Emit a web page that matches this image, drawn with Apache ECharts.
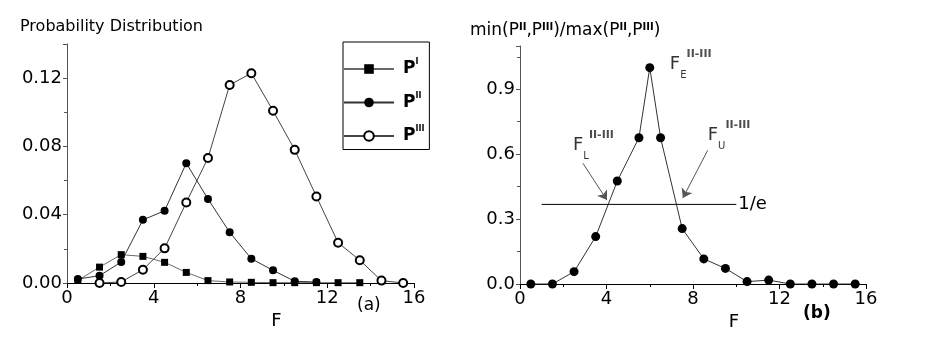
<!DOCTYPE html>
<html>
<head>
<meta charset="utf-8">
<script src="https://cdn.jsdelivr.net/npm/echarts@6/dist/echarts.min.js"></script>
<style>
html, body { margin: 0; padding: 0; background: #fff; }
#main { width: 927px; height: 354px; }
</style>
</head>
<body>
<div id="main"></div>
<script>
// (a) probability distributions, bins centred on half-integers
const binsI = [0.5, 1.5, 2.5, 3.5, 4.5, 5.5, 6.5, 7.5, 8.5, 9.5, 10.5, 11.5, 12.5, 13.5]
const pI = [0.0015, 0.0093, 0.0166, 0.0156, 0.0121, 0.0062, 0.0014, 0.0006, 0.0004, 0.0002, 0.0002, 0.0002, 0.0002, 0.0002]
const binsII = [0.5, 1.5, 2.5, 3.5, 4.5, 5.5, 6.5, 7.5, 8.5, 9.5, 10.5, 11.5]
const pII = [0.0023, 0.0043, 0.0123, 0.037, 0.0423, 0.0702, 0.0492, 0.0297, 0.0142, 0.0074, 0.001, 0.0006]
const binsIII = [1.5, 2.5, 3.5, 4.5, 5.5, 6.5, 7.5, 8.5, 9.5, 10.5, 11.5, 12.5, 13.5, 14.5, 15.5]
const pIII = [0, 0.0006, 0.0078, 0.0203, 0.0472, 0.0732, 0.116, 0.1229, 0.1009, 0.078, 0.0507, 0.0236, 0.0133, 0.0014, 0]

// (b) overlap ratio min/max of P^II and P^III
const binsRatio = [0.5, 1.5, 2.5, 3.5, 4.5, 5.5, 6.0, 6.5, 7.5, 8.5, 9.5, 10.5, 11.5, 12.5, 13.5, 14.5, 15.5]
const ratio = [0, 0, 0.057, 0.219, 0.476, 0.676, 1.0, 0.676, 0.256, 0.116, 0.072, 0.011, 0.018, 0, 0, 0, 0]

// 1/e reference level and annotations
const eLineF = [1, 10]
const eLevel = 1 / Math.E
const annSub = ['E', 'L', 'U']
const annF = [6.93, 2.45, 8.68]
const annY = [1.015, 0.641, 0.688]
const arrowFrom = [[2.91, 0.558], [8.68, 0.618]]
const arrowTo = [[4.02, 0.388], [7.53, 0.397]]

const font = 'DejaVu Sans'
const pairs = (xs, ys) => xs.map((x, i) => [x, ys[i]])

function xAxisCfg(gridIndex, namePad) {
	return {
		type: 'value', gridIndex: gridIndex,
		min: 0, max: 16, interval: 4,
		axisLine: { show: true, onZero: false, lineStyle: { color: '#000', width: 1 } },
		axisTick: { show: true, inside: false, length: 5, lineStyle: { color: '#000' } },
		minorTick: { show: true, splitNumber: 2, length: 3, lineStyle: { color: '#000' } },
		splitLine: { show: false },
		axisLabel: { color: '#000', fontFamily: font, fontSize: 18, margin: 6 },
		name: 'F', nameLocation: 'middle', nameGap: 18,
		nameTextStyle: { color: '#000', fontFamily: font, fontSize: 18, padding: [0, 0, 0, namePad] }
	}
}

function yAxisCfg(gridIndex, max, interval, digits) {
	return {
		type: 'value', gridIndex: gridIndex,
		min: 0, max: max, interval: interval,
		axisLine: { show: true, lineStyle: { color: '#555', width: 1 } },
		axisTick: { show: true, inside: false, length: 4, lineStyle: { color: '#555' } },
		minorTick: { show: true, splitNumber: 2, length: 3, lineStyle: { color: '#555' } },
		splitLine: { show: false },
		axisLabel: {
			color: '#000', fontFamily: font, fontSize: 18, margin: 5, showMaxLabel: false,
			formatter: v => v.toFixed(digits)
		}
	}
}

const supRich = {
	f: { fontFamily: font, fontSize: 18, color: '#000', lineHeight: 32 },
	sub: { fontFamily: font, fontSize: 10, color: '#000', verticalAlign: 'bottom', lineHeight: 12 },
	sup: { fontFamily: font, fontSize: 11, fontWeight: 'bold', color: '#222', verticalAlign: 'top', lineHeight: 14 }
}

const myChart = echarts.init(document.getElementById('main'))
const option = {
	animation: false,
	backgroundColor: '#fff',
	title: [
		{
			text: 'Probability Distribution', left: 20, top: 19, padding: 0,
			textStyle: { fontFamily: font, fontSize: 16, fontWeight: 'normal', color: '#000' }
		},
		{
			text: 'min(P{s|II},P{s|III})/max(P{s|II},P{s|III})', left: 470, top: 22, padding: 0,
			textStyle: {
				fontFamily: font, fontSize: 17, fontWeight: 'normal', color: '#000',
				rich: {
					s: { fontFamily: font, fontSize: 10, fontWeight: 'bold', color: '#000', verticalAlign: 'top', lineHeight: 12 }
				}
			}
		},
		{
			text: '(a)', left: 357, top: 297, padding: 0,
			textStyle: { fontFamily: font, fontSize: 17, fontWeight: 'normal', color: '#000' }
		},
		{
			text: '(b)', left: 803, top: 305, padding: 0,
			textStyle: { fontFamily: font, fontSize: 17, fontWeight: 'bold', color: '#000' }
		}
	],
	legend: {
		orient: 'vertical', left: 343, top: 42,
		padding: [16, 5, 5, 0],
		itemWidth: 50, itemHeight: 12, itemGap: 14,
		borderColor: '#000', borderWidth: 1,
		data: ['PI', 'PII', 'PIII'],
		formatter: name => '{p|P}{s|' + name.slice(1) + '}',
		textStyle: {
			padding: [0, 0, 0, 4],
			rich: {
				p: { fontFamily: font, fontSize: 17, fontWeight: 'bold', color: '#000', lineHeight: 22 },
				s: { fontFamily: font, fontSize: 8, fontWeight: 'bold', color: '#000', verticalAlign: 'top', lineHeight: 10 }
			}
		}
	},
	grid: [
		{ left: 67, top: 44, width: 347, height: 239 },
		{ left: 520, top: 46, width: 346, height: 238 }
	],
	xAxis: [xAxisCfg(0, 72), xAxisCfg(1, 82)],
	yAxis: [yAxisCfg(0, 0.14, 0.04, 2), yAxisCfg(1, 1.1, 0.3, 1)],
	series: [
		{
			name: 'PI', type: 'line', xAxisIndex: 0, yAxisIndex: 0,
			data: pairs(binsI, pI),
			symbol: 'rect', symbolSize: 7, showAllSymbol: true,
			itemStyle: { color: '#000' },
			lineStyle: { color: '#6a6a6a', width: 1 }
		},
		{
			name: 'PII', type: 'line', xAxisIndex: 0, yAxisIndex: 0,
			data: pairs(binsII, pII),
			symbol: 'circle', symbolSize: 8, showAllSymbol: true,
			itemStyle: { color: '#000' },
			lineStyle: { color: '#333', width: 1 }
		},
		{
			name: 'PIII', type: 'line', xAxisIndex: 0, yAxisIndex: 0,
			data: pairs(binsIII, pIII),
			symbol: 'emptyCircle', symbolSize: 8, showAllSymbol: true,
			itemStyle: { color: '#000', borderWidth: 1 },
			lineStyle: { color: '#444', width: 1 }
		},
		{
			name: 'ratio', type: 'line', xAxisIndex: 1, yAxisIndex: 1,
			data: pairs(binsRatio, ratio),
			symbol: 'circle', symbolSize: 9, showAllSymbol: true,
			itemStyle: { color: '#000' },
			lineStyle: { color: '#333', width: 1 }
		},
		{
			name: 'level', type: 'line', xAxisIndex: 1, yAxisIndex: 1,
			data: eLineF.map(f => [f, eLevel]),
			symbol: 'none', silent: true,
			lineStyle: { color: '#000', width: 1 },
			endLabel: {
				show: true, formatter: '1/e', distance: 2,
				fontFamily: font, fontSize: 18, color: '#000'
			},
			markLine: {
				silent: true,
				symbol: ['none', 'arrow'], symbolSize: 9,
				lineStyle: { color: '#555', type: 'solid', width: 1 },
				label: { show: false },
				data: arrowFrom.map((a, i) => [{ coord: a }, { coord: arrowTo[i] }])
			}
		},
		{
			name: 'labels', type: 'scatter', xAxisIndex: 1, yAxisIndex: 1,
			data: annF.map((f, i) => [f, annY[i]]),
			symbolSize: 0, silent: true,
			label: {
				show: true, position: 'right', distance: 0, color: '#000',
				formatter: p => '{f|F}{sub|' + annSub[p.dataIndex] + '}{sup|II-III}',
				rich: supRich
			}
		}
	]
}
myChart.setOption(option)
</script>
</body>
</html>
